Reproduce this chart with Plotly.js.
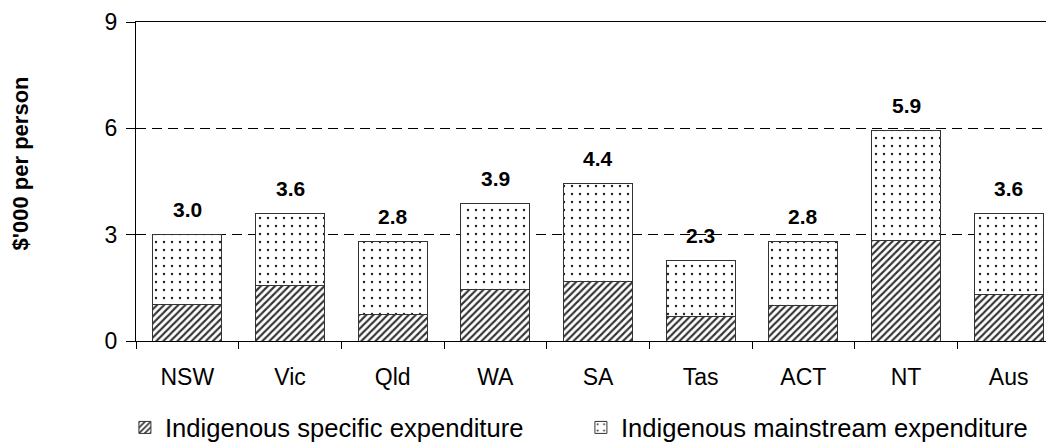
<!DOCTYPE html>
<html>
<head>
<meta charset="utf-8">
<script src="https://cdn.plot.ly/plotly-3.0.1.min.js"></script>
<style>
  html, body { margin: 0; padding: 0; overflow: hidden; background: #fff; }
  #chart { width: 1075px; height: 444px; }
</style>
</head>
<body>
<div id="chart"></div>
<script>
// Data ($'000 per person)
const categories = ["NSW", "Vic", "Qld", "WA", "SA", "Tas", "ACT", "NT", "Aus"];
const specificExp = [1.04, 1.58, 0.76, 1.46, 1.69, 0.70, 1.01, 2.83, 1.31];
const mainstreamExp = [1.96, 2.03, 2.04, 2.43, 2.74, 1.58, 1.79, 3.10, 2.28];
const totalLabels = ["3.0", "3.6", "2.8", "3.9", "4.4", "2.3", "2.8", "5.9", "3.6"];
const seriesNames = ["Indigenous specific expenditure", "Indigenous mainstream expenditure"];
const yTicks = [0, 3, 6, 9];

const FONT = "'Liberation Sans', Arial, Helvetica, sans-serif";

const totals = specificExp.map((v, i) => v + mainstreamExp[i]);

const traces = [
  {
    type: "bar",
    name: seriesNames[0],
    x: categories,
    y: specificExp,
    marker: {
      color: "#ffffff",
      line: { color: "#333333", width: 1 },
      pattern: { shape: "/", fgcolor: "#333333", bgcolor: "#ffffff", size: 5, solidity: 0.42, fillmode: "replace" }
    },
    hoverinfo: "skip"
  },
  {
    type: "bar",
    name: seriesNames[1],
    x: categories,
    y: mainstreamExp,
    marker: {
      color: "#ffffff",
      line: { color: "#333333", width: 1 },
      pattern: { shape: ".", fgcolor: "#222222", bgcolor: "#ffffff", size: 8, solidity: 0.07, fillmode: "replace" }
    },
    hoverinfo: "skip"
  }
];

const annotations = categories.map((c, i) => ({
  x: c,
  y: totals[i],
  xref: "x",
  yref: "y",
  text: "<b>" + totalLabels[i] + "</b>",
  showarrow: false,
  yanchor: "middle",
  yshift: 25,
  font: { family: FONT, size: 21, color: "#000" }
}));

annotations.push({
  xref: "paper",
  yref: "paper",
  x: -0.125,
  y: 0.555,
  xanchor: "center",
  yanchor: "middle",
  textangle: -90,
  showarrow: false,
  text: "<b>$'000 per person</b>",
  font: { family: FONT, size: 22, color: "#000" }
});

const layout = {
  width: 1075,
  height: 444,
  margin: { l: 136, r: 15, t: 22, b: 103, autoexpand: false },
  paper_bgcolor: "#ffffff",
  plot_bgcolor: "#ffffff",
  font: { family: FONT, color: "#000" },
  barmode: "stack",
  bargap: 0.33,
  showlegend: true,
  legend: {
    orientation: "h",
    x: -0.012,
    xanchor: "left",
    y: -0.272,
    yanchor: "middle",
    traceorder: "normal",
    entrywidth: 411,
    font: { family: FONT, size: 25.6, color: "#000" },
    bgcolor: "rgba(0,0,0,0)"
  },
  xaxis: {
    type: "category",
    showline: true,
    linecolor: "#000",
    linewidth: 1,
    mirror: true,
    ticks: "outside",
    tickson: "boundaries",
    ticklen: 7,
    tickcolor: "#000",
    showgrid: false,
    zeroline: false,
    ticklabelstandoff: 15,
    tickfont: { family: FONT, size: 23, color: "#000" }
  },
  yaxis: {
    range: [0, 9],
    tickvals: yTicks,
    ticktext: yTicks.map(String),
    showline: true,
    linecolor: "#000",
    linewidth: 1,
    ticks: "outside",
    ticklen: 9,
    tickcolor: "#000",
    showgrid: true,
    gridcolor: "#000",
    gridwidth: 1,
    griddash: "10px,6px",
    zeroline: false,
    ticklabelstandoff: 4,
    tickfont: { family: FONT, size: 23, color: "#000" }
  },
  annotations: annotations
};

Plotly.newPlot("chart", traces, layout, { staticPlot: true, displayModeBar: false });
</script>
</body>
</html>
